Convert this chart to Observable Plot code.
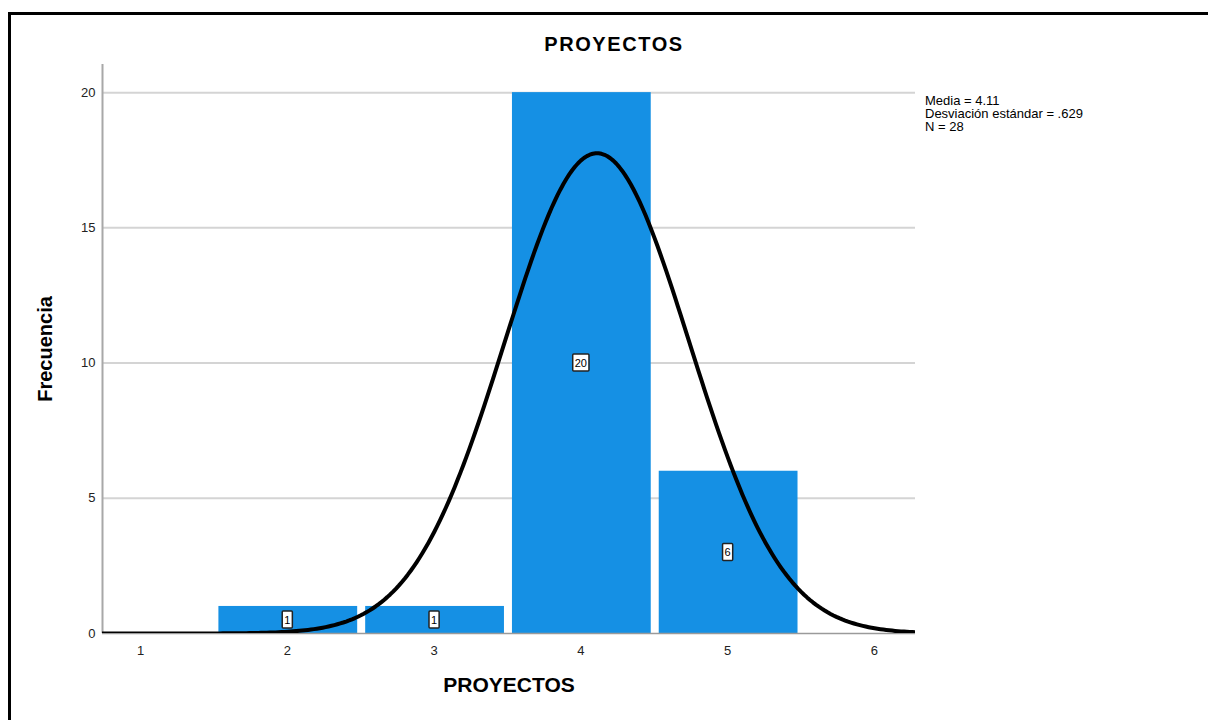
<!DOCTYPE html>
<html>
<head>
<meta charset="utf-8">
<script src="https://cdn.jsdelivr.net/npm/d3@7"></script>
<script src="https://cdn.jsdelivr.net/npm/@observablehq/plot@0.6"></script>
<style>
  html, body { margin: 0; padding: 0; background: #fff; width: 1208px; height: 720px; overflow: hidden; }
  body { position: relative; font-family: "Liberation Sans", Arial, sans-serif; }
  #frame { position: absolute; left: 8px; top: 12px; width: 1230px; height: 740px; border: 3px solid #000; box-sizing: border-box; }
  #title { position: absolute; left: 0; width: 1228px; top: 33px; text-align: center; font-size: 20px; font-weight: bold; letter-spacing: 1.6px; color: #000; }
  #stats { position: absolute; left: 925px; top: 94px; font-size: 13px; line-height: 13px; color: #000; }
  #chart { position: absolute; left: 0; top: 0; }
</style>
</head>
<body>
<div id="frame"></div>
<div id="chart"></div>
<div id="title">PROYECTOS</div>
<div id="stats"></div>
<script>
// Data
const values = [2, 3, 4, 5];
const counts = [1, 1, 20, 6];
const xTicks = [1, 2, 3, 4, 5, 6];
const yTicks = [0, 5, 10, 15, 20];
const statLines = ["Media = 4.11", "Desviación estándar = .629", "N = 28"];
const mean = 4.11, sd = 0.629, n = 28;

document.getElementById("stats").innerHTML = statLines.join("<br>");

const bars = values.map((v, i) => ({x1: v - 0.5, x2: v + 0.5, x: v, count: counts[i]}));

// Fitted normal curve from the displayed statistics (N * binWidth * pdf)
const xMin = 0.741, xMax = 6.28;
const curve = d3.range(xMin, xMax + 0.001, 0.02).map(x => ({
  x, y: n * Math.exp(-0.5 * ((x - mean) / sd) ** 2) / (sd * Math.sqrt(2 * Math.PI))
}));

const chart = Plot.plot({
  width: 1208,
  height: 720,
  marginLeft: 102,
  marginRight: 293,
  marginTop: 64,
  marginBottom: 87,
  style: {fontFamily: "Liberation Sans, Arial, sans-serif", background: "transparent"},
  x: {domain: [xMin, xMax], ticks: xTicks},
  y: {domain: [0, 21.04], ticks: yTicks},
  marks: [
    Plot.ruleY(yTicks.filter(d => d > 0), {stroke: "#d4d4d4", strokeWidth: 2}),
    Plot.rectY(bars, {x1: "x1", x2: "x2", y: "count", fill: "#1590e4", insetLeft: 5, insetRight: 3}),
    Plot.ruleY([0], {stroke: "#9a9a9a", strokeWidth: 1.5}),
    Plot.ruleX([xMin], {y1: 0, y2: 21.04, stroke: "#a8a8a8", strokeWidth: 2}),
    Plot.axisY({ticks: yTicks, tickFormat: "d", tickSize: 0, tickPadding: 7, fontSize: 13, color: "#222", label: null}),
    Plot.axisX({ticks: xTicks, tickFormat: "d", tickSize: 0, tickPadding: 12, fontSize: 13, color: "#222", label: null}),
    Plot.line(curve, {x: "x", y: "y", stroke: "#000", strokeWidth: 4, clip: true}),
    Plot.text(bars, {x: "x", y: d => d.count / 2, text: d => String(d.count), fontSize: 11, fill: "#000"}),
    Plot.text(["Frecuencia"], {frameAnchor: "left", dx: -57, rotate: -90, textAnchor: "middle", fontSize: 20, fontWeight: "bold", fill: "#000"}),
    Plot.text(["PROYECTOS"], {frameAnchor: "bottom", dy: 58, fontSize: 21, fontWeight: "bold", fill: "#000", letterSpacing: "1.6px"})
  ]
});
document.getElementById("chart").appendChild(chart);

// Draw boxes behind the value labels (first text mark of the chart)
const labelGroup = chart.querySelector('g[aria-label="text"]');
if (labelGroup) {
  labelGroup.querySelectorAll("text").forEach(t => {
    const b = t.getBBox();
    const r = document.createElementNS("http://www.w3.org/2000/svg", "rect");
    r.setAttribute("x", b.x - 2);
    r.setAttribute("y", b.y - 2.5);
    r.setAttribute("width", b.width + 4);
    r.setAttribute("height", b.height + 5);
    r.setAttribute("fill", "#fff");
    r.setAttribute("stroke", "#222");
    r.setAttribute("stroke-width", 1.5);
    r.setAttribute("rx", 1);
    const tr = t.getAttribute("transform");
    if (tr) r.setAttribute("transform", tr);
    t.parentNode.insertBefore(r, t);
  });
}
</script>
</body>
</html>
